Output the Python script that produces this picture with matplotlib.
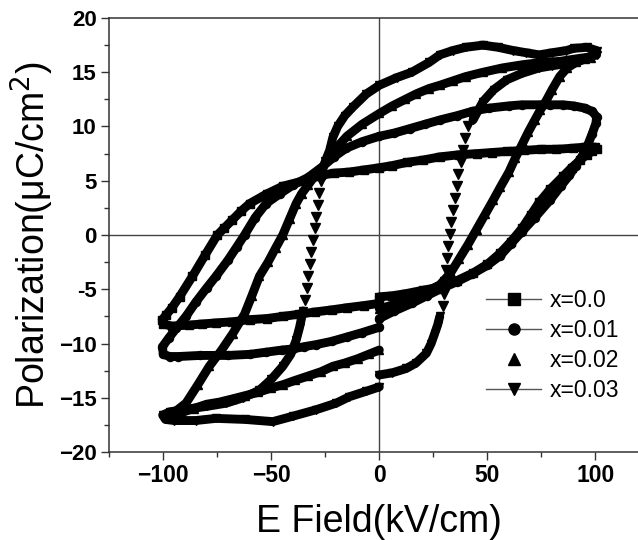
import matplotlib
matplotlib.use("Agg")
import matplotlib.pyplot as plt
from matplotlib.lines import Line2D
from matplotlib.ticker import MultipleLocator, FixedLocator

plt.rcParams['font.family'] = ['Liberation Sans', 'DejaVu Sans']

# ---------------- data (E in kV/cm, P in uC/cm^2) ----------------
# x = 0.0 (squares): start at E=0, to +100, back to -100, back to 0
e00 = [0, 6, 12.4, 20, 28, 36, 43.4, 50, 55.8, 61, 66, 70, 74, 79, 85, 89, 93, 96, 98.5, 100.6,
       100, 95, 89.7, 82, 75, 67, 59, 52, 45, 37, 28, 20, 13, 6, 0, -7, -14, -21, -27, -35,
       -44.7, -52, -60, -64, -68, -72, -75, -80.5, -86.5, -92.5, -96, -98.8, -100.5,
       -100, -96, -88, -82, -75.6, -68, -60, -52, -44.7, -37, -30, -22, -15, -7, 0]
p00 = [-5.7, -5.6, -5.4, -5.1, -4.8, -4.2, -3.5, -2.7, -1.7, -0.6, 0.6, 1.8, 3.0, 4.2, 5.4, 6.2, 6.9, 7.4, 7.7, 7.9,
       8.1, 8.1, 8.0, 7.9, 7.9, 7.8, 7.7, 7.6, 7.5, 7.4, 7.2, 6.9, 6.7, 6.4, 6.2, 6.0, 5.8, 5.7, 5.5, 5.0,
       4.5, 3.8, 2.9, 2.2, 1.4, 0.6, 0.0, -1.8, -3.8, -5.7, -6.7, -7.4, -7.8,
       -8.2, -8.4, -8.3, -8.2, -8.1, -8.0, -7.8, -7.7, -7.5, -7.3, -7.1, -6.9, -6.7, -6.5, -6.3]

# x = 0.01 (circles)
e01 = [0, 7, 15, 22, 28, 36, 43, 50, 56, 61, 66, 72, 79, 84, 88, 91, 94, 96.5, 98.5, 100.3,
       100.6, 98.5, 95, 90, 85, 79, 74, 66, 60, 51, 43, 36, 28, 21, 14, 7, 0, -8, -15.3, -21, -26.3,
       -33, -40, -46, -52.4, -57.5, -62.4, -66, -70, -75.6, -80, -85, -89.5, -94, -97.5, -100.4,
       -100, -97, -93, -83, -70, -60, -52.4, -45, -40, -35, -29.2, -22, -15, -8, 0]
p01 = [-7.7, -7.0, -6.3, -5.6, -5.0, -4.3, -3.6, -2.8, -1.9, -0.8, 0.3, 1.6, 3.2, 4.5, 5.5, 6.4, 7.3, 8.3, 9.3, 10.3,
       10.9, 11.4, 11.7, 11.9, 12.0, 12.0, 12.0, 12.0, 11.9, 11.7, 11.4, 11.0, 10.6, 10.2, 9.8, 9.4, 9.1, 8.6, 8.0, 7.2, 6.3,
       5.3, 4.6, 3.8, 2.9, 1.6, 0.0, -1.1, -2.3, -3.8, -4.9, -6.2, -7.5, -8.6, -9.5, -10.3,
       -11.0, -11.2, -11.2, -11.1, -11.1, -11.0, -10.8, -10.6, -10.5, -10.3, -10.1, -9.8, -9.4, -9.0, -8.5]

# x = 0.02 (up triangles)
e02 = [0, 7, 14, 21, 28, 33, 37, 41, 45, 49, 52.7, 56, 60, 63, 66.5, 69, 72, 74.5, 77.3, 80, 83.5, 87, 91, 95, 98,
       97, 90, 83.5, 75, 66.5, 57, 48, 40, 34, 28, 23, 17, 12, 6, 0, -8, -15, -20, -23, -27,
       -30, -33, -36, -38.5, -41.5, -44.7, -48, -51.5, -55.5, -59, -62.4, -67.9, -73, -78.7, -84, -89.5, -94, -98,
       -97, -92, -86, -80, -74, -67.9, -62, -56, -50, -44.7, -39, -33, -27, -21.5, -16, -10, -5, 0]
p02 = [-6.8, -6.4, -5.9, -5.3, -4.6, -3.5, -2.2, -0.9, 0.5, 1.9, 3.2, 4.4, 5.8, 7.1, 8.5, 9.5, 10.6, 11.5, 12.4, 13.4, 14.6, 15.4, 15.9, 16.2, 16.3,
       16.4, 16.2, 16.0, 15.9, 15.7, 15.4, 15.0, 14.6, 14.2, 13.8, 13.5, 13.0, 12.5, 11.9, 11.2, 10.2, 9.1, 8.0, 7.2, 6.0,
       5.4, 4.6, 3.8, 2.9, 1.5, 0.0, -1.2, -2.5, -3.8, -5.6, -7.3, -9.1, -10.6, -12.1, -13.8, -15.5, -16.2, -16.5,
       -16.8, -16.4, -16.0, -15.6, -15.4, -15.1, -14.8, -14.5, -14.1, -13.8, -13.4, -13.0, -12.6, -12.1, -11.8, -11.4, -11.0, -10.6]

# x = 0.03 (down triangles): continuous parts and the sparse switching points
e03_a = [0, 6, 12.5, 17, 21.8, 24, 25.6, 27, 28]
p03_a = [-12.9, -12.7, -12.3, -11.8, -10.9, -10.0, -9.1, -8.3, -7.5]
e03_sw1 = [29.5, 30.0, 30.5, 31.0, 31.4, 32.0, 32.6, 33.3, 34.0, 35.0, 35.8, 36.6, 37.6, 38.6, 39.6, 41.0]
p03_sw1 = [-6.5, -5.4, -4.3, -3.2, -2.1, -1.0, 0.1, 1.2, 2.3, 3.4, 4.5, 5.6, 6.7, 7.8, 8.9, 10.0]
e03_b = [43.4, 48, 53, 59, 66, 74, 80, 87, 94, 100.6,
         100.6, 96, 90, 86.6, 80, 74, 68, 62, 55, 48, 40, 34, 28, 23, 15, 8, 0,
         -6, -12.2, -16, -19.3, -21.5, -23, -25, -26.3]
p03_b = [10.6, 12.3, 13.4, 14.3, 14.9, 15.4, 15.6, 15.8, 16.2, 16.6,
         17.0, 17.3, 17.2, 17.0, 16.8, 16.6, 16.8, 17.0, 17.3, 17.5, 17.3, 17.0, 16.6, 15.9, 15.0, 14.5, 13.8,
         13.0, 11.8, 11.0, 10.0, 9.0, 7.8, 6.8, 6.0]
e03_sw2 = [-27.2, -27.8, -28.5, -29.2, -30.0, -30.9, -31.6, -32.3, -33.0, -33.7, -34.4]
p03_sw2 = [5.0, 3.9, 2.8, 1.7, 0.6, -0.5, -1.6, -2.7, -3.8, -4.9, -6.0]
e03_c = [-35.3, -36.9, -38.5, -41, -44.7, -50, -55.5, -63, -70.9, -80, -91, -97, -100.3,
         -99, -95, -85, -75.6, -62, -49.3, -40, -29.2, -20, -13.8, -6, 0]
p03_c = [-7.0, -8.5, -9.7, -11.0, -12.1, -13.3, -14.3, -15.0, -15.5, -15.8, -16.1, -16.3, -16.6,
         -17.0, -17.1, -17.1, -16.9, -17.0, -17.2, -16.7, -16.1, -15.5, -14.9, -14.4, -14.0]

labels = ['x=0.0', 'x=0.01', 'x=0.02', 'x=0.03']
x_ticks = [-100, -50, 0, 50, 100]
x_ticklabels = ['\u2212100', '\u221250', '0', '50', '100']
y_ticks = [-20, -15, -10, -5, 0, 5, 10, 15, 20]
y_ticklabels = ['\u221220', '\u221215', '\u221210', '-5', '0', '5', '10', '15', '20']

# ---------------- figure ----------------
W, H = 638, 540
fig = plt.figure(figsize=(W / 100, H / 100), dpi=100)
ax = fig.add_axes([109.3 / W, 88 / H, 540 / W, 434 / H])

LW = 6.4
MS = 5.8
common = dict(color='black', lw=LW, ms=MS, solid_joinstyle='round', solid_capstyle='round', zorder=3)
ax.plot(e00, p00, marker='s', **common)
ax.plot(e01, p01, marker='o', **common)
ax.plot(e02, p02, marker='^', **common)
for ee, pp in [(e03_a, p03_a), (e03_b, p03_b), (e03_c, p03_c)]:
    ax.plot(ee, pp, marker='v', **common)
for ee, pp in [(e03_sw1, p03_sw1), (e03_sw2, p03_sw2)]:
    ax.plot(ee, pp, marker='v', linestyle='none', color='black', ms=7.5, zorder=3)

ax.axhline(0, color='#444444', lw=1.0, zorder=1)
ax.axvline(0, color='#444444', lw=1.0, zorder=1)

ax.set_xlim(-125, 125)
ax.set_ylim(-20, 20)
ax.xaxis.set_major_locator(FixedLocator(x_ticks))
ax.xaxis.set_minor_locator(MultipleLocator(25))
ax.yaxis.set_major_locator(FixedLocator(y_ticks))
ax.yaxis.set_minor_locator(MultipleLocator(2.5))
ax.set_xticklabels(x_ticklabels, fontsize=16.5, fontweight='bold')
ax.set_yticklabels(y_ticklabels, fontsize=16, fontweight='bold')
ax.tick_params(which='major', direction='out', length=6, width=1.0, color='#333333', pad=3)
ax.tick_params(which='minor', direction='out', length=3.5, width=1.0, color='#333333')
for s in ['left', 'bottom', 'top']:
    ax.spines[s].set_color('#333333')
    ax.spines[s].set_linewidth(1.1)
ax.spines['right'].set_visible(False)

ax.set_xlabel('E Field(kV/cm)', fontsize=27, labelpad=12)
ax.set_ylabel('Polarization(\u03bcC/cm$^2$)', fontsize=27, labelpad=2)

handles = [
    Line2D([], [], color='#555555', lw=1.0, marker='s', mfc='black', mec='black', ms=8),
    Line2D([], [], color='#555555', lw=1.0, marker='o', mfc='black', mec='black', ms=8),
    Line2D([], [], linestyle='none', marker='^', mfc='black', mec='black', ms=8),
    Line2D([], [], color='#555555', lw=1.0, marker='v', mfc='black', mec='black', ms=8),
]
ax.legend(handles, labels, loc='upper left', bbox_to_anchor=(486 / W, 1 - 289 / H),
          bbox_transform=fig.transFigure, frameon=False, fontsize=16.5,
          handlelength=2.4, handletextpad=0.4, labelspacing=0.3, borderpad=0, borderaxespad=0)

fig.savefig('out.png', dpi=100)
